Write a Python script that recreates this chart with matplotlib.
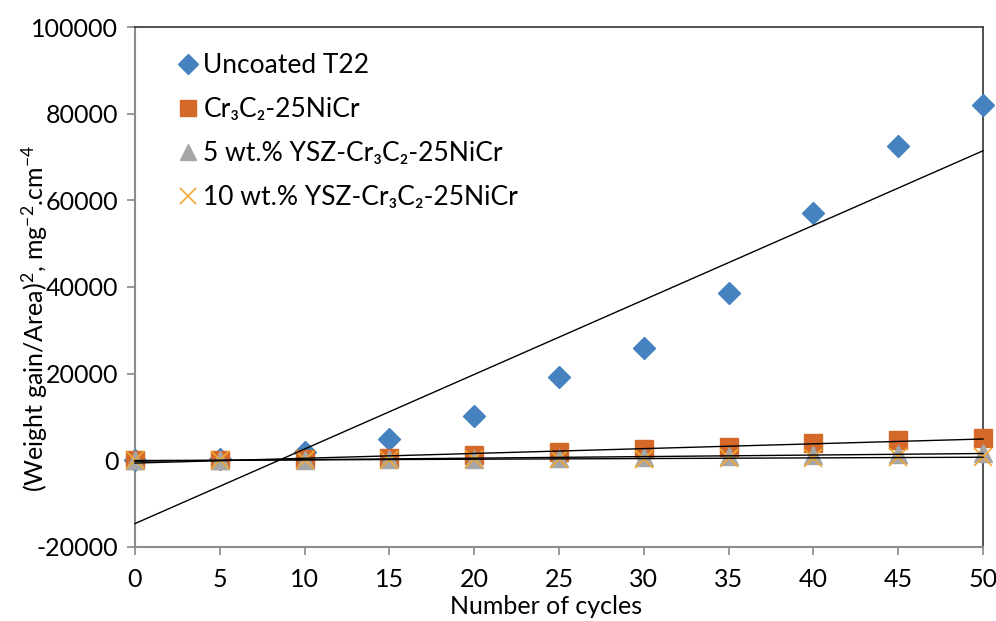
import numpy as np
import matplotlib.pyplot as plt

plt.rcParams['font.family'] = ['Lato', 'DejaVu Sans']
plt.rcParams['axes.unicode_minus'] = False
plt.rcParams['mathtext.fontset'] = 'custom'
plt.rcParams['mathtext.rm'] = 'Lato'
plt.rcParams['mathtext.it'] = 'Lato:italic'
plt.rcParams['mathtext.bf'] = 'Lato:bold'

cycles = [0, 5, 10, 15, 20, 25, 30, 35, 40, 45, 50]
uncoated = [0, 300, 2000, 5000, 10200, 19200, 25900, 38500, 57000, 72500, 82000]
cr3c2 = [0, 100, 400, 600, 1150, 1900, 2500, 3100, 4000, 4600, 5200]
ysz5 = [0, 50, 150, 250, 350, 500, 700, 1000, 1300, 1500, 1700]
ysz10 = [0, 30, 80, 150, 220, 300, 400, 500, 600, 650, 700]

labels = ['Uncoated T22', 'Cr₃C₂-25NiCr', '5 wt.% YSZ-Cr₃C₂-25NiCr',
          '10 wt.% YSZ-Cr₃C₂-25NiCr']

fig = plt.figure(figsize=(9.96, 6.21), dpi=100)
ax = fig.add_axes([0.1355, 0.1192, 0.8515, 0.8373])

x = np.array(cycles)
ax.plot(x, uncoated, 'D', color='#4682c0', ms=11.5, label=labels[0], zorder=3)
ax.plot(x, cr3c2, 's', color='#d4692a', ms=13.5, label=labels[1], zorder=3)
ax.plot(x, ysz5, '^', color='#a6a6a6', ms=13, label=labels[2], zorder=4)
ax.plot(x, ysz10, 'x', color='#f0a830', ms=13, mew=1.2, label=labels[3], zorder=5)

# linear trend lines
for ys in (uncoated, cr3c2, ysz5, ysz10):
    m, b = np.polyfit(x, ys, 1)
    ax.plot([0, 50], [b, m * 50 + b], color='black', lw=1, zorder=6)

ax.set_xlim(0, 50)
ax.set_ylim(-20000, 100000)
ax.set_xticks(range(0, 51, 5))
ax.set_yticks(range(-20000, 100001, 20000))
ax.tick_params(labelsize=18, direction='out', length=6, color='#888888', width=1.2)
ax.tick_params(axis='x', pad=9)
ax.tick_params(axis='y', pad=6)

for s in ('left', 'bottom'):
    ax.spines[s].set_color('#8c8c8c')
    ax.spines[s].set_linewidth(1.5)
for s in ('top', 'right'):
    ax.spines[s].set_color('#333333')
    ax.spines[s].set_linewidth(1.2)

ax.set_xlabel('Number of cycles', fontsize=18)
ax.xaxis.set_label_coords(0.485, -0.093)
ax.set_ylabel(r'(Weight gain/Area)$^{2}$, mg$^{-2}$.cm$^{-4}$', fontsize=18)
ax.yaxis.set_label_coords(-0.1, 0.44)

ax.legend(loc='upper left', bbox_to_anchor=(0.02, 0.995), frameon=False, fontsize=19,
          handletextpad=0.15, handlelength=0.9, labelspacing=0.72, markerscale=0.85)

for sp in ax.spines.values():
    sp.set_clip_on(False)
for ln in ax.lines:
    ln.set_clip_on(False)

fig.savefig('out.png', dpi=100)
